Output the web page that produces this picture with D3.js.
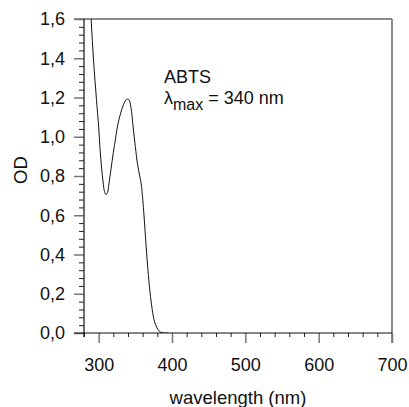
<!DOCTYPE html>
<html>
<head>
<meta charset="utf-8">
<script src="https://cdn.jsdelivr.net/npm/d3@7"></script>
<style>
  body { margin: 0; background: #fff; }
  svg text { font-family: "Liberation Sans", Arial, Helvetica, sans-serif; fill: #111; }
</style>
</head>
<body>
<div id="chart"></div>
<script>
// spectrum (wavelength in nm, optical density)
const wavelength = [286, 288, 290, 293, 297, 300, 302, 304, 306, 308, 310, 312, 314, 317, 320, 323, 326, 330, 334, 338, 341, 344, 347, 350, 353, 356, 358, 361, 364, 367, 370, 373, 376, 379, 382, 385, 388, 395];
const od = [1.92, 1.75, 1.58, 1.39, 1.19, 1.05, 0.93, 0.84, 0.77, 0.72, 0.705, 0.715, 0.76, 0.84, 0.92, 0.99, 1.06, 1.12, 1.165, 1.19, 1.19, 1.15, 1.05, 0.95, 0.86, 0.80, 0.76, 0.64, 0.48, 0.33, 0.21, 0.12, 0.06, 0.03, 0.012, 0.003, 0, 0];

const xMajor = [300, 400, 500, 600, 700];
const xMinor = [280, 320, 340, 360, 380, 420, 440, 460, 480, 520, 540, 560, 580, 620, 640, 660, 680];
const yMajor = [0, 0.2, 0.4, 0.6, 0.8, 1.0, 1.2, 1.4, 1.6];
const yMinor = [0.04, 0.08, 0.12, 0.16, 0.24, 0.28, 0.32, 0.36, 0.44, 0.48, 0.52, 0.56, 0.64, 0.68, 0.72, 0.76,
  0.84, 0.88, 0.92, 0.96, 1.04, 1.08, 1.12, 1.16, 1.24, 1.28, 1.32, 1.36, 1.44, 1.48, 1.52, 1.56];

const W = 409, H = 407;
const margin = { top: 19, right: 17, bottom: 74, left: 84 };
const width = W - margin.left - margin.right;
const height = H - margin.top - margin.bottom;

const svg = d3.select("#chart").append("svg")
  .attr("width", W)
  .attr("height", H);

const g = svg.append("g").attr("transform", `translate(${margin.left},${margin.top})`);

const x = d3.scaleLinear().domain([280, 700]).range([0, width]);
const y = d3.scaleLinear().domain([0, 1.6]).range([height, 0]);

const fmt = (d) => d3.format(".1f")(d).replace(".", ",");

// frame: top and right in grey
g.append("line").attr("x1", -10).attr("x2", width).attr("y1", 0).attr("y2", 0)
  .attr("stroke", "#666").attr("stroke-width", 1.5);
g.append("line").attr("x1", width).attr("x2", width).attr("y1", 0).attr("y2", height + 10)
  .attr("stroke", "#666").attr("stroke-width", 1.5);

// minor ticks
g.append("g").attr("transform", `translate(0,${height})`)
  .call(d3.axisBottom(x).tickValues(xMinor).tickSize(4).tickFormat(""))
  .call((s) => s.select(".domain").remove())
  .selectAll("line").attr("stroke", "#222");
g.append("g")
  .call(d3.axisLeft(y).tickValues(yMinor).tickSize(5).tickFormat(""))
  .call((s) => s.select(".domain").remove())
  .selectAll("line").attr("stroke", "#222");

// major ticks + labels
const xAxis = g.append("g").attr("transform", `translate(0,${height})`)
  .call(d3.axisBottom(x).tickValues(xMajor).tickSize(10).tickPadding(15).tickSizeOuter(0));
xAxis.select(".domain").remove();
xAxis.selectAll("line").attr("stroke", "#777").attr("stroke-width", 1.5);
xAxis.selectAll("text").style("font-size", "18px").attr("fill", "#111");

const yAxis = g.append("g")
  .call(d3.axisLeft(y).tickValues(yMajor).tickSize(10).tickPadding(9).tickFormat(fmt).tickSizeOuter(0));
yAxis.select(".domain").remove();
yAxis.selectAll("line").attr("stroke", "#777").attr("stroke-width", 1.5);
yAxis.selectAll("text").style("font-size", "18px").attr("fill", "#111");

// axis lines
g.append("line").attr("x1", -10).attr("x2", width).attr("y1", height).attr("y2", height)
  .attr("stroke", "#111").attr("stroke-width", 1.2);
g.append("line").attr("x1", 0).attr("x2", 0).attr("y1", 0).attr("y2", height + 4)
  .attr("stroke", "#111").attr("stroke-width", 1.2);

// curve, clipped to the plot area
g.append("clipPath").attr("id", "clip")
  .append("rect").attr("width", width).attr("height", height);

const pts = wavelength.map((w, i) => [w, od[i]]);
g.append("path")
  .datum(pts)
  .attr("clip-path", "url(#clip)")
  .attr("fill", "none")
  .attr("stroke", "#111")
  .attr("stroke-width", 1)
  .attr("d", d3.line().x((d) => x(d[0])).y((d) => y(d[1])).curve(d3.curveCatmullRom));

// axis titles
svg.append("text")
  .attr("x", margin.left + width / 2)
  .attr("y", 404)
  .attr("text-anchor", "middle")
  .style("font-size", "18.5px")
  .text("wavelength (nm)");

svg.append("text")
  .attr("transform", `translate(27,170) rotate(-90)`)
  .attr("text-anchor", "middle")
  .style("font-size", "18.5px")
  .text("OD");

// annotation
svg.append("text").attr("x", 164).attr("y", 83).style("font-size", "18px").text("ABTS");
const lab = svg.append("text").attr("x", 164).attr("y", 104).style("font-size", "18px");
lab.append("tspan").text("λ");
lab.append("tspan").attr("dy", 6).style("font-size", "16px").text("max");
lab.append("tspan").attr("dy", -6).text(" = 340 nm");
</script>
</body>
</html>
